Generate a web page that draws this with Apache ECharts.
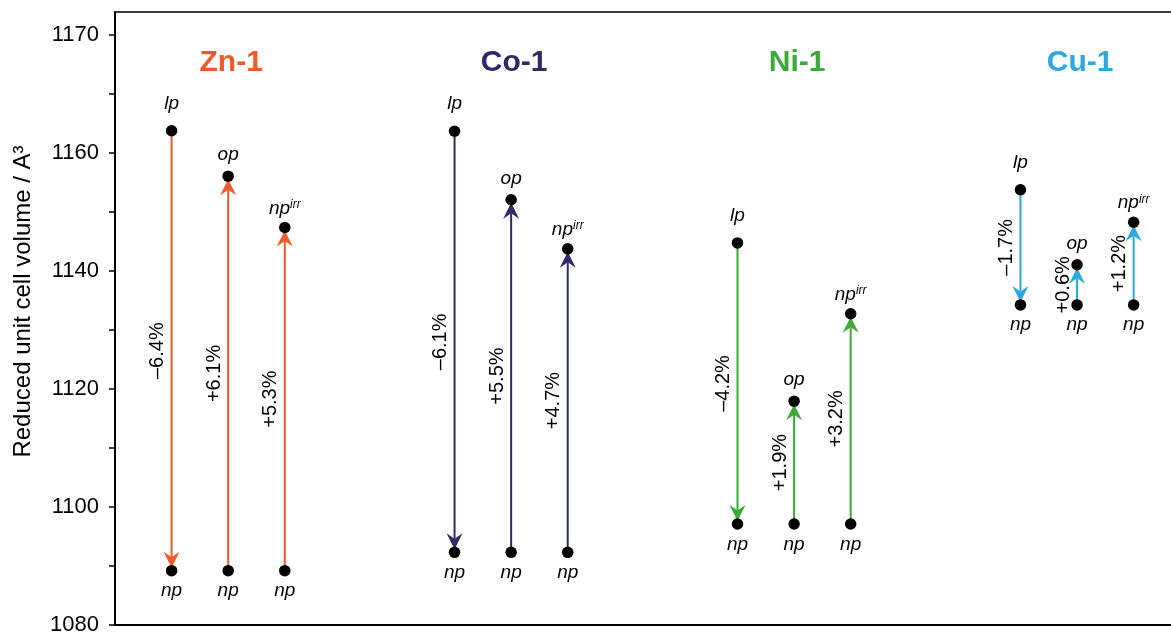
<!DOCTYPE html>
<html>
<head>
<meta charset="utf-8">
<script src="https://cdn.jsdelivr.net/npm/echarts@6/dist/echarts.min.js"></script>
<style>
  html, body { margin: 0; padding: 0; background: #ffffff; }
  #chart { width: 1171px; height: 636px; }
</style>
</head>
<body>
<div id="chart"></div>
<script>
// Reduced unit cell volumes (A^3) of each framework in its phases
const frameworks = ['Zn-1', 'Co-1', 'Ni-1', 'Cu-1'];
const frameworkColors = ['#F1582A', '#2D2A66', '#3BAA36', '#2AA8E0'];
const lpVolume = [1163.7, 1163.6, 1144.7, 1153.7];
const opVolume = [1156.0, 1152.0, 1117.9, 1141.0];
const npIrrVolume = [1147.3, 1143.7, 1132.7, 1148.2];
const npVolume = [1089.2, 1092.3, 1097.1, 1134.2];

// y axis ticks and their printed labels
const yTickMarks = [1080, 1090, 1100, 1110, 1120, 1130, 1140, 1150, 1160, 1170, 1180];
const yTickValues = [1080, 1100, 1120, 1140, 1160, 1180];
const yTickLabels = ['1080', '1100', '1120', '1140', '1160', '1170'];
const yMin = 1080, yMax = 1183.8;

const FONT = '"Liberation Sans", Arial, Helvetica, sans-serif';

// three columns per framework, five column slots per framework block
function columnX(g, c) { return g * 5 + c + 1; }

// arrows: [x, from, to, frameworkIndex]
const arrowData = [];
const dotData = [];
frameworks.forEach((name, g) => {
  arrowData.push([columnX(g, 0), lpVolume[g], npVolume[g], g]);
  arrowData.push([columnX(g, 1), npVolume[g], opVolume[g], g]);
  arrowData.push([columnX(g, 2), npVolume[g], npIrrVolume[g], g]);

  dotData.push({ value: [columnX(g, 0), lpVolume[g]], label: { formatter: '{i|lp}', position: 'top', distance: 12 } });
  dotData.push({ value: [columnX(g, 1), opVolume[g]], label: { formatter: '{i|op}', position: 'top', distance: 6 } });
  dotData.push({ value: [columnX(g, 2), npIrrVolume[g]], label: { formatter: '{i|np}{s|irr}', position: 'top', distance: 4 } });
  for (let c = 0; c < 3; c++) {
    dotData.push({ value: [columnX(g, c), npVolume[g]], label: { formatter: '{i|np}', position: 'bottom', distance: 5 } });
  }
});

const titleData = frameworks.map((name, g) => [columnX(g, 1), g]);

const chart = echarts.init(document.getElementById('chart'), null, { renderer: 'canvas' });

chart.setOption({
  backgroundColor: '#ffffff',
  animation: false,
  grid: { left: 115, top: 12, right: 0, bottom: 10, show: false },
  xAxis: [
    {
      type: 'value', min: 0, max: 18.66, position: 'bottom',
      axisLine: { show: true, onZero: false, lineStyle: { color: '#000', width: 2 } },
      axisTick: { show: false }, axisLabel: { show: false }, splitLine: { show: false }
    },
    {
      type: 'value', min: 0, max: 18.66, position: 'top',
      axisLine: { show: true, onZero: false, lineStyle: { color: '#000', width: 1.5 } },
      axisTick: { show: false }, axisLabel: { show: false }, splitLine: { show: false }
    }
  ],
  yAxis: {
    type: 'value', min: yMin, max: yMax,
    name: 'Reduced unit cell volume / A\u00B3',
    nameLocation: 'middle', nameGap: 80,
    nameTextStyle: { fontFamily: FONT, fontSize: 24, color: '#000', padding: [0, 0, 0, 34] },
    axisLine: { show: true, lineStyle: { color: '#000', width: 2 } },
    axisTick: { show: true, inside: false, length: 6, customValues: yTickMarks, lineStyle: { color: '#000', width: 1.5 } },
    axisLabel: {
      customValues: yTickValues, margin: 16,
      fontFamily: FONT, fontSize: 22, color: '#000',
      formatter: v => { const i = yTickValues.indexOf(v); return i >= 0 ? yTickLabels[i] : ''; }
    },
    splitLine: { show: false }
  },
  series: [
    {
      type: 'custom', name: 'transitions', z: 2,
      encode: { x: 0, y: [1, 2] },
      data: arrowData,
      renderItem(params, api) {
        const x = api.value(0), from = api.value(1), to = api.value(2), g = api.value(3);
        const p0 = api.coord([x, from]);
        const p1 = api.coord([x, to]);
        const dir = p1[1] > p0[1] ? 1 : -1;
        const color = frameworkColors[g];
        const tipY = p1[1] - dir * 3;
        const headLen = 16, halfW = 8, notch = 10.5;
        const pct = (to / from - 1) * 100;
        const txt = (pct < 0 ? '\u2013' : '+') + Math.abs(pct).toFixed(1) + '%';
        return {
          type: 'group',
          children: [
            { type: 'line', shape: { x1: p0[0], y1: p0[1], x2: p1[0], y2: tipY - dir * notch },
              style: { stroke: color, lineWidth: 2 } },
            { type: 'polygon', shape: { points: [
                [p1[0], tipY],
                [p1[0] + halfW, tipY - dir * headLen],
                [p1[0], tipY - dir * notch],
                [p1[0] - halfW, tipY - dir * headLen]] },
              style: { fill: color } },
            { type: 'text', x: p0[0] - 14, y: (p0[1] + p1[1]) / 2, rotation: Math.PI / 2,
              style: { text: txt, fill: '#000', fontFamily: FONT, fontSize: 20, align: 'center', verticalAlign: 'middle' } }
          ]
        };
      }
    },
    {
      type: 'scatter', name: 'phases', z: 3,
      symbol: 'circle', symbolSize: 11.5,
      itemStyle: { color: '#000', opacity: 1 },
      label: {
        show: true, color: '#000',
        rich: {
          i: { fontFamily: FONT, fontSize: 19, fontStyle: 'italic', color: '#000' },
          s: { fontFamily: FONT, fontSize: 12, fontStyle: 'italic', color: '#000', verticalAlign: 'top' }
        }
      },
      emphasis: { disabled: true },
      data: dotData
    },
    {
      type: 'custom', name: 'titles', z: 4,
      encode: { x: 0, y: 1 },
      data: titleData,
      renderItem(params, api) {
        const g = api.value(1);
        const p = api.coord([api.value(0), yMin]);
        return {
          type: 'text', x: p[0] + 3, y: params.coordSys.y + 51,
          style: { text: frameworks[g], fill: frameworkColors[g], fontFamily: FONT, fontSize: 30, fontWeight: 'bold',
                   align: 'center', verticalAlign: 'middle' }
        };
      }
    }
  ]
});
</script>
</body>
</html>
